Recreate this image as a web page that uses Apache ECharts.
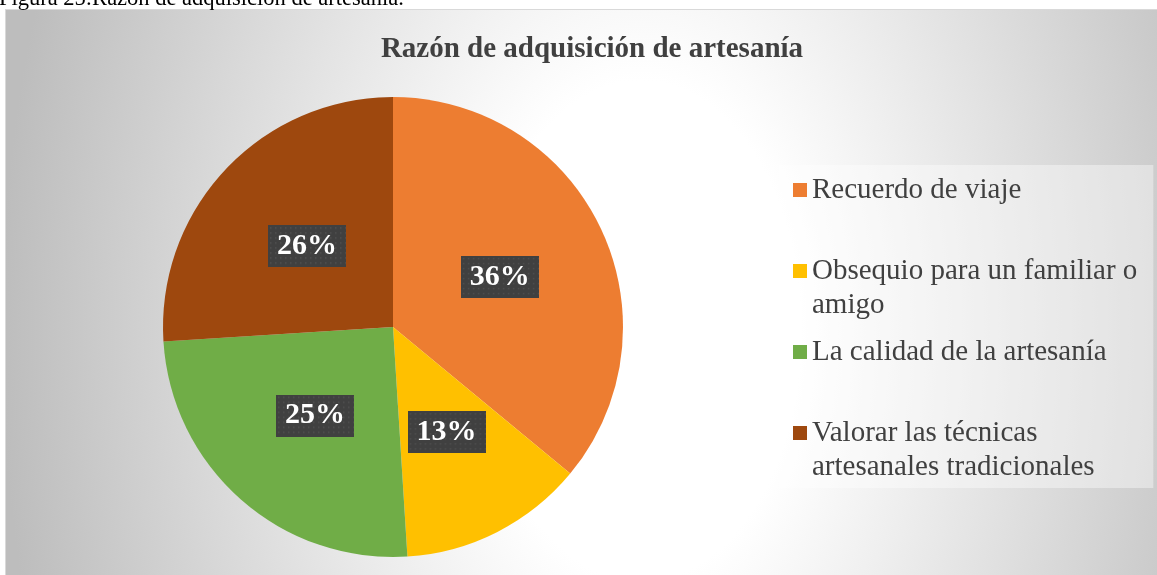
<!DOCTYPE html>
<html>
<head>
<meta charset="utf-8">
<script src="https://cdn.jsdelivr.net/npm/echarts@6/dist/echarts.min.js"></script>
<style>
  html, body { margin: 0; padding: 0; background: #ffffff; overflow: hidden; }
  #bg {
    position: absolute; left: 5px; top: 9px; width: 1220px; height: 620px;
    border: 1px solid #d9d9d9; box-sizing: border-box;
    background: radial-gradient(ellipse 640px 1000px at 635px 321px, #ffffff 0%, #ffffff 25%, #bdbdbd 100%);
  }
  #chart { position: absolute; left: 0; top: 0; width: 1157px; height: 575px; }
</style>
</head>
<body>
<div id="bg"></div>
<div id="chart"></div>
<script>
// ---- data ----
const categories = [
  'Recuerdo de viaje',
  'Obsequio para un familiar o amigo',
  'La calidad de la artesanía',
  'Valorar las técnicas artesanales tradicionales'
];
const legendLabels = [
  'Recuerdo de viaje',
  'Obsequio para un familiar o\namigo',
  'La calidad de la artesanía',
  'Valorar las técnicas\nartesanales tradicionales'
];
const percents = [36, 13, 25, 26];
const colors = ['#ED7D31', '#FFC000', '#70AD47', '#9E480E'];
const chartTitle = 'Razón de adquisición de artesanía';
const caption = 'Figura 25:Razón de adquisición de artesanía.';

// dotted dark pattern for label boxes
function makePattern(w, h) {
  const c = document.createElement('canvas');
  c.width = w; c.height = h;
  const g = c.getContext('2d');
  g.fillStyle = '#404040';
  g.fillRect(0, 0, w, h);
  g.fillStyle = '#505050';
  for (let y = 2; y < h; y += 5) {
    for (let x = 2; x < w; x += 5) {
      g.fillRect(x, y, 1.5, 1.5);
    }
  }
  return c;
}
const pattern = makePattern(78, 42);

const font = '"Liberation Serif", "Times New Roman", serif';
const chart = echarts.init(document.getElementById('chart'), null, { renderer: 'canvas' });

chart.setOption({
  backgroundColor: 'transparent',
  animation: false,
  title: [{
    text: chartTitle,
    left: 587, top: 30,
    textAlign: 'center',
    textStyle: { fontFamily: font, fontWeight: 'bold', fontSize: 29, color: '#404040' }
  }],
  graphic: [{
    type: 'text', left: -1, top: -12,
    style: { text: caption, font: '22.5px ' + font, fill: '#000000' }
  }],
  legend: {
    orient: 'vertical',
    left: 779, top: 165,
    padding: [8, 16, 4, 14],
    backgroundColor: 'rgba(255,255,255,0.4)',
    itemWidth: 14, itemHeight: 14, itemGap: 13,
    icon: 'rect',
    data: categories,
    formatter: function (name) {
      const t = legendLabels[categories.indexOf(name)];
      return t.indexOf('\n') >= 0 ? '\n' + t : t;
    },
    textStyle: { fontFamily: font, fontSize: 29, lineHeight: 34, color: '#404040' }
  },
  series: [{
    type: 'pie',
    center: [393, 327],
    radius: 230,
    startAngle: 90,
    clockwise: true,
    avoidLabelOverlap: false,
    color: colors,
    itemStyle: { borderWidth: 0 },
    label: {
      show: true,
      position: 'inside',
      formatter: function (p) { return Math.round(p.percent) + '%'; },
      fontFamily: font, fontWeight: 'bold', fontSize: 30, lineHeight: 32,
      color: '#ffffff',
      backgroundColor: { image: pattern },
      padding: [5, 9, 5, 9],
      shadowColor: 'rgba(0,0,0,0.5)', shadowBlur: 6, shadowOffsetX: 3, shadowOffsetY: 3
    },
    labelLine: { show: false },
    emphasis: { disabled: true },
    data: categories.map((c, i) => ({ name: c, value: percents[i] }))
  }]
});
</script>
</body>
</html>
